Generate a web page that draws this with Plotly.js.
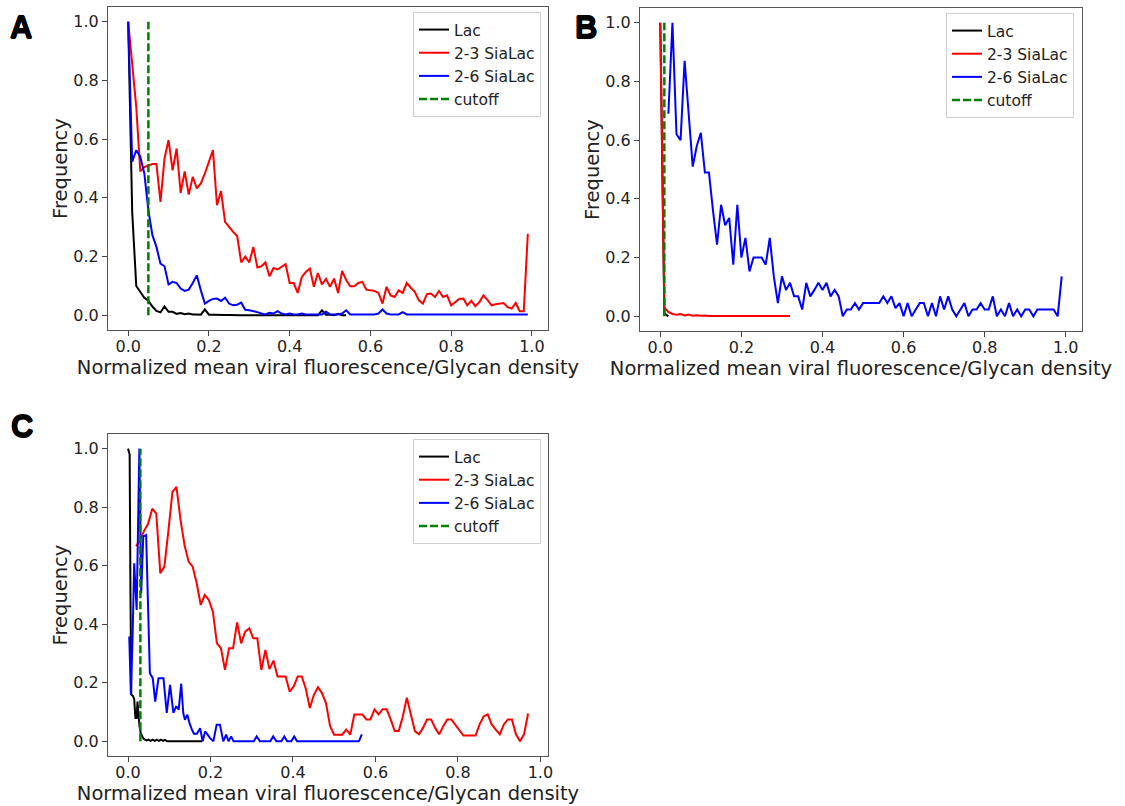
<!DOCTYPE html>
<html>
<head>
<meta charset="utf-8">
<script src="https://cdn.plot.ly/plotly-3.0.1.min.js"></script>
<style>html,body{margin:0;padding:0;background:#fff;}#chart{width:1125px;height:806px;}</style>
</head>
<body>
<div id="chart"></div>
<script>
// ---------- Data ----------
const seriesNames = ["Lac", "2-3 SiaLac", "2-6 SiaLac", "cutoff"];
const panelLetters = ["A", "B", "C"];
const xTickVals = [0.0, 0.2, 0.4, 0.6, 0.8, 1.0];
const yTickVals = [0.0, 0.2, 0.4, 0.6, 0.8, 1.0];
const xLabel = "Normalized mean viral fluorescence/Glycan density";
const yLabel = "Frequency";

// Panel A / B bin positions (0.00 .. 0.99)
const xBins = [0.00,0.01,0.02,0.03,0.04,0.05,0.06,0.07,0.08,0.09,
  0.10,0.11,0.12,0.13,0.14,0.15,0.16,0.17,0.18,0.19,
  0.20,0.21,0.22,0.23,0.24,0.25,0.26,0.27,0.28,0.29,
  0.30,0.31,0.32,0.33,0.34,0.35,0.36,0.37,0.38,0.39,
  0.40,0.41,0.42,0.43,0.44,0.45,0.46,0.47,0.48,0.49,
  0.50,0.51,0.52,0.53,0.54,0.55,0.56,0.57,0.58,0.59,
  0.60,0.61,0.62,0.63,0.64,0.65,0.66,0.67,0.68,0.69,
  0.70,0.71,0.72,0.73,0.74,0.75,0.76,0.77,0.78,0.79,
  0.80,0.81,0.82,0.83,0.84,0.85,0.86,0.87,0.88,0.89,
  0.90,0.91,0.92,0.93,0.94,0.95,0.96,0.97,0.98,0.99];

// Panel A
const aLac = [1.0,0.35,0.10,0.08,0.06,0.05,0.03,0.015,0.01,0.03,
  0.012,0.012,0.005,0.008,0.004,0.006,0.003,0.003,0.002,0.02,
  0.002,0.002,0.001,0.002,0.001,0.001,0.0,0.001,0.0,0.0,
  0.0,0.001,0.0,0.0,0.001,0.0,0.0,0.002,0.0,0.0,
  0.0,0.001,0.0,0.0,0.0,0.001,0.0,0.0,0.017,0.002,
  0.002,0.0,0.005,0.0,0.0];
const a23 = [1.0,0.86,0.71,0.49,0.505,0.51,0.515,0.515,0.386,0.534,
  0.597,0.494,0.568,0.417,0.49,0.411,0.472,0.432,0.449,0.483,
  0.523,0.5625,0.375,0.423,0.318,0.30,0.284,0.27,0.18,0.20,
  0.18,0.233,0.163,0.167,0.18,0.133,0.161,0.156,0.165,0.174,
  0.11,0.11,0.076,0.13,0.148,0.159,0.097,0.144,0.105,0.124,
  0.097,0.125,0.076,0.151,0.12,0.099,0.099,0.11,0.114,0.0875,
  0.085,0.083,0.076,0.04,0.097,0.068,0.0625,0.085,0.076,0.11,
  0.094,0.08,0.051,0.04,0.072,0.074,0.0625,0.083,0.0625,0.068,
  0.034,0.045,0.056,0.057,0.034,0.049,0.031,0.045,0.068,0.053,
  0.034,0.0375,0.04,0.042,0.028,0.023,0.042,0.014,0.014,0.278];
const a26 = [1.0,0.523,0.5625,0.54,0.483,0.358,0.273,0.233,0.176,0.167,
  0.105,0.114,0.11,0.091,0.083,0.0875,0.11,0.136,0.085,0.04,
  0.049,0.056,0.057,0.049,0.06,0.04,0.034,0.036,0.043,0.019,
  0.017,0.015,0.011,0.006,0.003,0.009,0.006,0.014,0.006,0.003,
  0.006,0.003,0.003,0.006,0.003,0.003,0.003,0.003,0.003,0.012,
  0.003,0.003,0.003,0.006,0.017,0.003,0.003,0.003,0.003,0.003,
  0.003,0.003,0.006,0.02,0.006,0.003,0.003,0.003,0.011,0.003,
  0.003,0.003,0.003,0.005,0.003,0.003,0.003,0.003,0.003,0.003,
  0.005,0.003,0.003,0.003,0.003,0.003,0.003,0.004,0.003,0.003,
  0.003,0.003,0.003,0.005,0.003,0.003,0.003,0.003,0.003,0.003];
const aCutoff = 0.05;

// Panel B
const bLac = [1.0,0.01,0.0];
const b23 = [1.0,0.03,0.015,0.008,0.005,0.008,0.003,0.006,0.002,0.004,
  0.002,0.003,0.001,0.002,0.001,0.001,0.002,0.001,0.001,0.001,
  0.001,0.001,0.001,0.001,0.001,0.001,0.001,0.001,0.001,0.001,
  0.001,0.001,0.001];
const b26 = [0.69,1.0,0.62,0.60,0.87,0.69,0.51,0.58,
  0.625,0.49,0.49,0.36,0.244,0.38,0.31,0.335,0.176,0.38,
  0.2,0.267,0.153,0.2,0.2,0.2,0.176,0.267,0.136,0.045,
  0.136,0.09,0.114,0.068,0.068,0.023,0.114,0.068,0.09,0.114,
  0.09,0.114,0.068,0.09,0.068,0.0,0.023,0.023,0.045,0.023,
  0.045,0.045,0.045,0.045,0.045,0.068,0.045,0.068,0.028,0.045,
  0.0,0.045,0.0,0.023,0.045,0.045,0.0,0.045,0.0,0.068,
  0.023,0.068,0.023,0.0,0.023,0.045,0.0,0.023,0.023,0.045,
  0.023,0.023,0.068,0.0,0.023,0.0,0.045,0.0,0.023,0.0,
  0.023,0.023,0.0,0.023,0.023,0.023,0.023,0.023,0.0,0.136];
const bCutoff = 0.01;

// Panel C
const cLacX = [0.0,0.004,0.006,0.008,0.012,0.015,0.018,0.021,0.023,0.026,
  0.028,0.031,0.034,0.037,0.041,0.045,0.05,0.055,0.06,0.065,
  0.07,0.075,0.08,0.085,0.09,0.095,0.1,0.14,0.18];
const cLac = [1.0,0.98,0.5,0.16,0.155,0.145,0.08,0.08,0.136,0.06,
  0.05,0.028,0.02,0.01,0.006,0.003,0.006,0.002,0.006,0.002,
  0.006,0.002,0.006,0.002,0.005,0.0,0.0,0.0,0.0];
const c23X = [0.0196,0.0294,0.0392,0.049,0.0588,0.0686,0.0784,0.0882,
  0.098,0.1078,0.1176,0.1274,0.1372,0.147,0.1568,0.1666,0.1764,0.1862,
  0.196,0.2058,0.2156,0.2254,0.2352,0.245,0.2548,0.2646,0.2744,0.2842,
  0.294,0.3038,0.3136,0.3234,0.3332,0.343,0.3528,0.3626,0.3724,0.3822,
  0.392,0.4018,0.4116,0.4214,0.4312,0.441,0.4508,0.4606,0.4704,0.4802,
  0.49,0.4998,0.5096,0.5194,0.5292,0.539,0.5488,0.5586,0.5684,0.5782,
  0.588,0.5978,0.6076,0.6174,0.6272,0.637,0.6468,0.6566,0.6664,0.6762,
  0.686,0.6958,0.7056,0.7154,0.7252,0.735,0.7448,0.7546,0.7644,0.7742,
  0.784,0.7938,0.8036,0.8134,0.8232,0.833,0.8428,0.8526,0.8624,0.8722,
  0.882,0.8918,0.9016,0.9114,0.9212,0.931,0.9408,0.9506,0.9604,0.9702];
const c23 = [0.667,0.687,0.72,0.744,0.795,0.778,0.574,0.597,
  0.72,0.852,0.869,0.756,0.67,0.614,0.597,0.54,0.466,0.5,
  0.483,0.443,0.335,0.318,0.244,0.318,0.318,0.406,0.335,0.375,
  0.386,0.352,0.352,0.244,0.3125,0.247,0.276,0.222,0.222,0.222,
  0.17,0.1875,0.222,0.222,0.18,0.114,0.159,0.185,0.165,0.13,
  0.053,0.023,0.023,0.023,0.04,0.023,0.092,0.092,0.092,0.075,
  0.075,0.109,0.092,0.11,0.11,0.075,0.035,0.035,0.085,0.149,
  0.092,0.035,0.024,0.046,0.075,0.075,0.046,0.024,0.052,0.075,
  0.075,0.058,0.04,0.02,0.02,0.02,0.02,0.058,0.085,0.092,
  0.058,0.04,0.024,0.058,0.075,0.075,0.024,0.0,0.024,0.095];
const c26X = [0.003,0.007,0.011,0.015,0.021,0.0275,0.032,0.037,0.044,0.053,
  0.06,0.066,0.074,0.086,0.094,0.102,0.11,0.117,0.123,0.129,
  0.134,0.138,0.144,0.149,0.155,0.16,0.167,0.175,0.181,0.187,
  0.193,0.199,0.207,0.215,0.223,0.231,0.238,0.244,0.25,0.256,
  0.27,0.29,0.305,0.312,0.32,0.345,0.352,0.36,0.372,0.379,
  0.386,0.396,0.403,0.41,0.45,0.5,0.56,0.567];
const c26 = [0.358,0.16,0.35,0.608,0.449,1.0,0.506,0.70,0.705,0.233,
  0.216,0.136,0.216,0.216,0.097,0.193,0.097,0.12,0.108,0.197,
  0.097,0.074,0.091,0.0625,0.04,0.026,0.026,0.045,0.0,0.034,
  0.023,0.011,0.0,0.057,0.057,0.0,0.023,0.0,0.017,0.0,
  0.0,0.0,0.0,0.017,0.0,0.0,0.017,0.0,0.0,0.017,
  0.0,0.0,0.017,0.0,0.0,0.0,0.0,0.024];
const cCutoff = 0.03;
const cutoffY = [0, 1];

// ---------- Styles ----------
const colors = ["#000000", "#ff0000", "#0000ff", "#008000"];
const LW = 2;

function panelTraces(ax, leg, lacX, lacY, r23X, r23Y, r26X, r26Y, cut) {
  const xa = "x" + ax, ya = "y" + ax;
  return [
    {x: lacX, y: lacY, name: seriesNames[0], type: "scatter", mode: "lines",
     line: {color: colors[0], width: LW}, xaxis: xa, yaxis: ya, legend: leg},
    {x: r23X, y: r23Y, name: seriesNames[1], type: "scatter", mode: "lines",
     line: {color: colors[1], width: LW}, xaxis: xa, yaxis: ya, legend: leg},
    {x: r26X, y: r26Y, name: seriesNames[2], type: "scatter", mode: "lines",
     line: {color: colors[2], width: LW}, xaxis: xa, yaxis: ya, legend: leg},
    {x: [cut, cut], y: cutoffY, name: seriesNames[3], type: "scatter", mode: "lines",
     line: {color: colors[3], width: 2.5, dash: "8px,3px"}, xaxis: xa, yaxis: ya, legend: leg}
  ];
}

const traces = [].concat(
  panelTraces("", "legend", xBins.slice(0, aLac.length), aLac, xBins, a23, xBins, a26, aCutoff),
  panelTraces("2", "legend2", xBins.slice(0, bLac.length), bLac, xBins.slice(0, b23.length), b23, xBins.slice(2), b26, bCutoff),
  panelTraces("3", "legend3", cLacX, cLac, c23X, c23, c26X, c26, cCutoff)
);

const W = 1125, H = 806;
const tickFont = {family: "DejaVu Sans", size: 16, color: "#222"};
const titleFont = {family: "DejaVu Sans", size: 19.5, color: "#222"};

function xAxis(l, r, range) {
  return {domain: [l / W, r / W], range: range, tickvals: xTickVals, tickformat: ".1f",
    ticks: "outside", ticklen: 5, tickcolor: "#444", tickwidth: 1, ticklabelstandoff: -3,
    showline: true, mirror: true, linecolor: "#555", linewidth: 1,
    showgrid: false, zeroline: false, tickfont: tickFont,
    title: {text: xLabel, font: titleFont, standoff: 4}, fixedrange: true};
}
function yAxis(t, b) {
  return {domain: [1 - b / H, 1 - t / H], range: [-0.05, 1.05], tickvals: yTickVals, tickformat: ".1f",
    ticks: "outside", ticklen: 5, tickcolor: "#444", tickwidth: 1,
    showline: true, mirror: true, linecolor: "#555", linewidth: 1,
    showgrid: false, zeroline: false, tickfont: tickFont,
    title: {text: yLabel, font: titleFont, standoff: 0}, fixedrange: true};
}
function legendAt(right, top) {
  return {x: right / W, y: 1 - top / H, xanchor: "right", yanchor: "top",
    bgcolor: "rgba(255,255,255,0.85)", bordercolor: "#d0d0d0", borderwidth: 1,
    font: {family: "DejaVu Sans", size: 15.5, color: "#222"}, tracegroupgap: 0};
}
function letter(txt, cx, cy) {
  return {text: "<b>" + txt + "</b>", xref: "paper", yref: "paper", x: cx / W, y: 1 - cy / H,
    xanchor: "center", yanchor: "middle", showarrow: false,
    font: {family: "Liberation Sans", size: 31, color: "#000",
      shadow: "0.6px 0 0 #000, -0.6px 0 0 #000, 0 0.6px 0 #000, 0 -0.6px 0 #000"}};
}

const layout = {
  width: W, height: H,
  margin: {l: 0, r: 0, t: 0, b: 0},
  paper_bgcolor: "#fff", plot_bgcolor: "#fff",
  showlegend: true, hovermode: false,
  xaxis: Object.assign(xAxis(108, 548, [-0.05, 1.04]), {anchor: "y"}),
  yaxis: Object.assign(yAxis(7, 330), {anchor: "x"}),
  xaxis2: Object.assign(xAxis(640, 1082, [-0.05, 1.04]), {anchor: "y2"}),
  yaxis2: Object.assign(yAxis(8, 331), {anchor: "x2"}),
  xaxis3: Object.assign(xAxis(108, 548, [-0.0485, 1.0185]), {anchor: "y3"}),
  yaxis3: Object.assign(yAxis(434, 756), {anchor: "x3"}),
  legend: legendAt(541, 12),
  legend2: legendAt(1074, 13),
  legend3: legendAt(541, 439),
  annotations: [letter(panelLetters[0], 21, 27), letter(panelLetters[1], 586, 27), letter(panelLetters[2], 22, 427)]
};

Plotly.newPlot("chart", traces, layout, {displayModeBar: false, staticPlot: true});
</script>
</body>
</html>
